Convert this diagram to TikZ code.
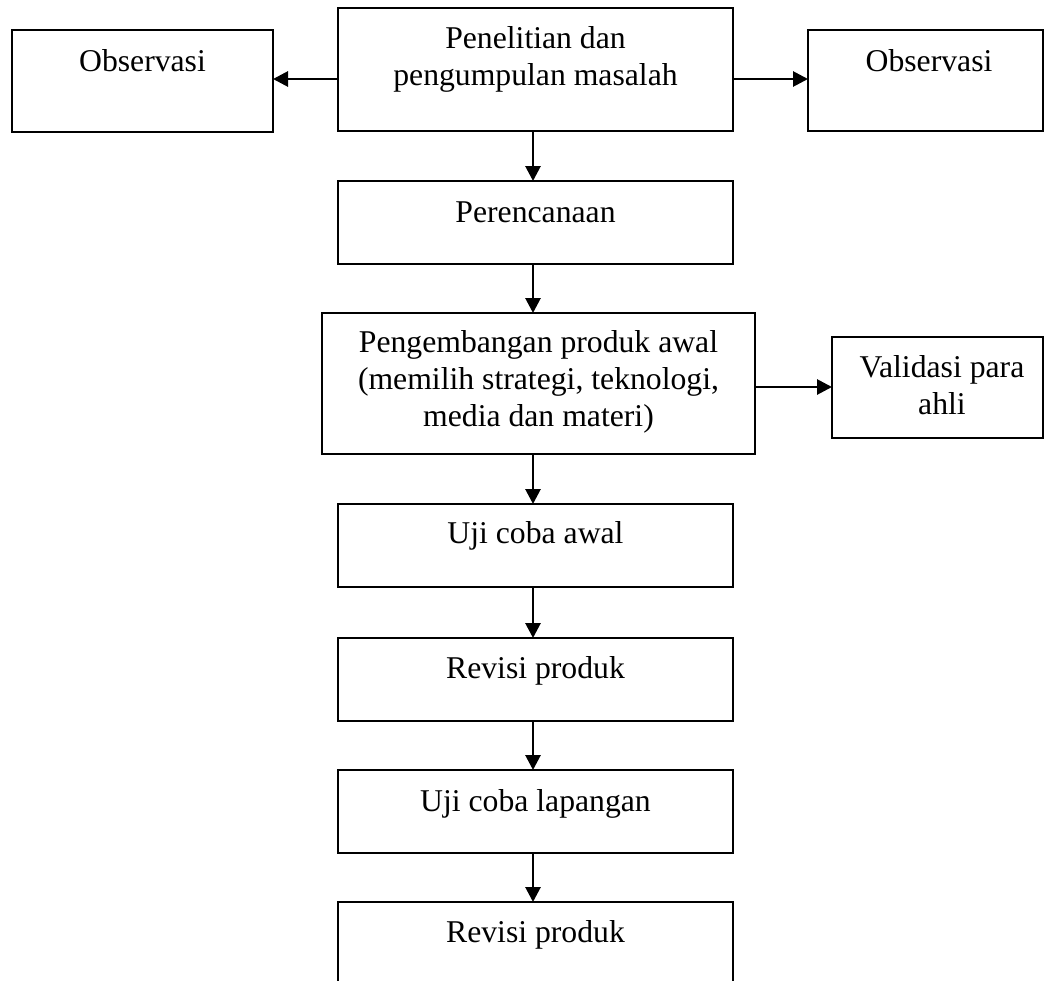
\documentclass[tikz,border=0pt]{standalone}
\usepackage{fontspec}
\setmainfont{Liberation Serif}
\usetikzlibrary{arrows.meta}
\begin{document}
\begin{tikzpicture}[x=1pt,y=-1pt,
  box/.style={draw=black,line width=2.8pt,rectangle,inner sep=0pt,outer sep=0pt},
  lbl/.style={anchor=base,align=center,inner sep=0pt,font=\fontsize{31.7}{37}\selectfont},
  arr/.style={line width=2.8pt,-{Triangle[length=15pt,width=15pt]}}]
\useasboundingbox (0,0) rectangle (1044,980);
% boxes
\node[box,minimum width=395pt,minimum height=123pt] (top) at (535.5,69.5) {};
\node[box,minimum width=261pt,minimum height=102pt] (obsL) at (142.5,81) {};
\node[box,minimum width=235pt,minimum height=101pt] (obsR) at (925.5,80.5) {};
\node[box,minimum width=395pt,minimum height=83pt] (plan) at (535.5,222.5) {};
\node[box,minimum width=433pt,minimum height=141pt] (dev) at (538.5,383.5) {};
\node[box,minimum width=211pt,minimum height=101pt] (val) at (937.5,387.5) {};
\node[box,minimum width=395pt,minimum height=83pt] (uji1) at (535.5,545.5) {};
\node[box,minimum width=395pt,minimum height=83pt] (rev1) at (535.5,679.5) {};
\node[box,minimum width=395pt,minimum height=83pt] (uji2) at (535.5,811.5) {};
\node[box,minimum width=395pt,minimum height=110pt] (rev2) at (535.5,957) {};
% labels (multi-line nodes: base anchor is on the last line)
\node[lbl] (ttop) at (535.5,85) {Penelitian dan\\pengumpulan masalah};
\node[lbl] (tobsL) at (142.5,71) {Observasi};
\node[lbl] (tobsR) at (929,71) {Observasi};
\node[lbl] (tplan) at (535.5,222) {Perencanaan};
\node[lbl] (tdev) at (538.5,426) {Pengembangan produk awal\\(memilih strategi, teknologi,\\media dan materi)};
\node[lbl] (tval) at (942,414) {Validasi para\\ahli};
\node[lbl] (tuji1) at (535.5,543) {Uji coba awal};
\node[lbl] (trev1) at (535.5,678) {Revisi produk};
\node[lbl] (tuji2) at (535.5,811) {Uji coba lapangan};
\node[lbl] (trev2) at (535.5,942) {Revisi produk};
% connectors
\coordinate (ax) at (533,0);
\coordinate (hy) at (0,79);
\coordinate (vy) at (0,387);
\draw[arr] (top.west |- hy) -- (obsL.east |- hy);
\draw[arr] (top.east |- hy) -- (obsR.west |- hy);
\draw[arr] (top.south -| ax) -- (plan.north -| ax);
\draw[arr] (plan.south -| ax) -- (dev.north -| ax);
\draw[arr] (dev.east |- vy) -- (val.west |- vy);
\draw[arr] (dev.south -| ax) -- (uji1.north -| ax);
\draw[arr] (uji1.south -| ax) -- (rev1.north -| ax);
\draw[arr] (rev1.south -| ax) -- (uji2.north -| ax);
\draw[arr] (uji2.south -| ax) -- (rev2.north -| ax);
\end{tikzpicture}
\end{document}
